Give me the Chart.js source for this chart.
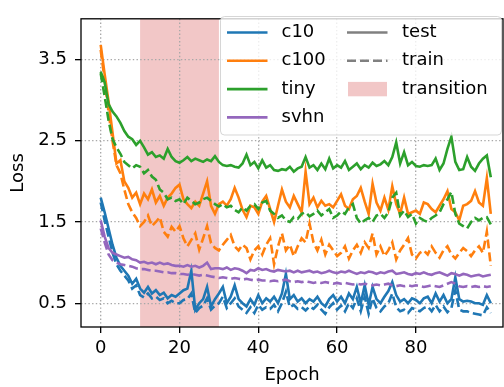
<!DOCTYPE html>
<html><head><meta charset="utf-8">
<script src="https://cdn.jsdelivr.net/npm/chart.js@4/dist/chart.umd.min.js"></script>
<style>html,body{margin:0;padding:0;background:#fff;}#wrap{width:504px;height:387px;}</style>
</head><body><div id="wrap"><canvas id="c" width="504" height="387"></canvas></div>
<script>
const seriesNames = ['c10','c100','tiny','svhn'];
const seriesColors = ['#1f77b4','#ff7f0e','#2ca02c','#9467bd'];
const xTicks = [0,20,40,60,80];
const yTicks = [0.5,1.5,2.5,3.5];
const transition = [10,30];

const c10Test = [1.80,1.62,1.42,1.22,1.06,0.96,0.90,0.84,0.74,0.80,0.68,0.63,0.70,0.62,0.66,
0.60,0.63,0.56,0.60,0.58,0.62,0.66,0.68,0.90,0.42,0.50,0.55,0.70,0.46,0.55,
0.62,0.70,0.50,0.58,0.72,0.55,0.50,0.46,0.55,0.48,0.60,0.50,0.56,0.52,0.58,0.50,0.62,0.86,0.55,0.60,0.52,0.56,0.50,0.55,0.52,0.58,0.50,0.46,0.55,0.60,
0.52,0.58,0.50,0.62,0.55,0.70,0.50,0.72,0.48,0.70,0.55,0.50,0.58,0.65,0.76,0.60,0.52,0.55,0.50,0.56,0.54,0.50,0.56,0.58,0.50,0.62,0.52,0.60,0.50,0.55,0.82,0.55,0.52,0.53,0.52,0.50,0.50,0.48,0.60,0.50];
const c10Train = [1.74,1.52,1.32,1.12,0.98,0.90,0.84,0.78,0.68,0.72,0.60,0.57,0.62,0.56,0.58,
0.54,0.56,0.50,0.53,0.50,0.50,0.54,0.55,0.62,0.38,0.44,0.47,0.56,0.42,0.47,
0.50,0.58,0.44,0.50,0.56,0.46,0.42,0.38,0.45,0.38,0.48,0.42,0.45,0.43,0.48,0.40,0.50,0.64,0.45,0.48,0.43,0.45,0.41,0.46,0.43,0.48,0.42,0.37,0.45,0.50,
0.42,0.47,0.40,0.50,0.44,0.56,0.40,0.58,0.37,0.56,0.44,0.40,0.46,0.50,0.62,0.45,0.40,0.42,0.38,0.44,0.42,0.40,0.44,0.46,0.40,0.48,0.40,0.46,0.39,0.44,0.66,0.42,0.40,0.40,0.38,0.37,0.36,0.35,0.45,0.38];
const c100Test = [3.68,3.32,2.98,2.60,2.22,2.26,2.00,1.92,1.80,1.86,
1.72,1.85,1.78,1.90,1.74,1.82,1.70,1.80,1.85,1.92,1.96,1.78,1.72,1.67,1.75,1.70,1.85,2.00,1.70,1.60,
1.72,1.75,1.70,1.78,1.92,1.80,1.65,1.56,1.70,1.68,1.60,1.75,1.82,1.66,1.50,1.70,1.90,1.75,1.68,1.82,1.72,1.62,2.12,1.72,1.80,1.68,1.76,1.70,1.72,1.68,
1.76,1.84,1.70,1.66,1.78,1.82,1.92,1.75,1.60,1.97,1.74,1.64,1.80,1.65,1.94,1.72,1.60,1.80,1.60,1.62,1.64,1.60,1.74,1.72,1.66,1.62,1.70,1.78,1.88,1.66,1.62,1.52,1.70,1.72,1.76,1.88,1.74,1.70,2.04,1.60];
const c100Train = [3.62,3.25,2.85,2.50,2.20,2.10,1.90,1.72,1.62,1.55,
1.45,1.50,1.58,1.45,1.50,1.56,1.38,1.32,1.44,1.38,1.45,1.30,1.20,1.28,1.36,1.16,1.30,1.45,1.24,1.18,
1.15,1.22,1.28,1.34,1.20,1.15,1.22,1.18,1.04,1.15,1.20,1.10,1.22,1.30,0.98,1.20,1.36,1.15,1.22,1.08,1.20,1.30,1.25,1.48,1.25,1.15,1.28,1.10,1.22,1.15,
1.08,1.12,1.20,1.05,1.15,1.22,1.12,1.25,1.18,1.36,1.10,1.20,1.08,1.15,1.25,1.04,1.15,1.22,1.30,1.10,1.05,1.12,1.15,1.10,1.20,1.12,1.06,1.15,1.20,1.10,1.05,1.12,1.18,1.14,1.08,1.15,1.20,1.12,1.38,0.96];
const tinyTest = [3.35,3.22,2.95,2.86,2.80,2.72,2.62,2.55,2.52,2.45,2.50,2.42,
2.33,2.36,2.30,2.32,2.28,2.40,2.30,2.25,2.23,2.26,2.30,2.25,2.28,2.26,2.24,2.27,2.25,2.31,
2.24,2.20,2.19,2.20,2.18,2.17,2.22,2.33,2.20,2.24,2.16,2.26,2.17,2.20,2.14,2.13,2.15,2.14,2.18,2.12,2.16,2.18,2.30,2.17,2.20,2.14,2.22,2.15,2.28,2.16,
2.20,2.17,2.25,2.14,2.18,2.22,2.15,2.20,2.17,2.23,2.19,2.21,2.25,2.20,2.30,2.48,2.22,2.36,2.20,2.24,
2.19,2.18,2.20,2.19,2.20,2.28,2.14,2.22,2.40,2.55,2.24,2.14,2.15,2.30,2.18,2.13,2.22,2.28,2.32,2.05];
const tinyTrain = [3.33,3.05,2.75,2.52,2.42,2.34,2.24,2.20,2.16,2.20,
2.18,2.10,2.14,2.06,2.02,1.90,1.86,1.78,1.80,1.76,1.78,1.72,1.80,1.76,1.72,1.74,1.78,1.80,1.76,1.72,
1.69,1.72,1.68,1.70,1.65,1.62,1.68,1.64,1.70,1.72,1.66,1.74,1.76,1.64,1.60,1.55,1.58,1.52,1.50,1.56,1.54,1.60,1.62,1.57,1.60,1.64,1.58,1.62,1.66,1.55,
1.58,1.63,1.60,1.68,1.72,1.55,1.48,1.52,1.55,1.50,1.58,1.60,1.55,1.62,1.80,1.86,1.58,1.64,1.56,1.60,1.48,1.55,1.52,1.50,1.55,1.58,1.62,1.72,1.78,1.87,1.60,1.48,1.45,1.42,1.50,1.55,1.52,1.55,1.56,1.47];
const svhnTest = [1.52,1.32,1.18,1.12,1.10,1.08,1.06,1.07,1.04,1.03,
1.00,1.01,0.99,1.00,0.98,1.00,0.98,0.99,0.97,0.96,0.96,0.95,0.97,0.95,0.96,0.94,0.96,1.00,0.92,0.93,
0.93,0.92,0.94,0.91,0.93,0.92,0.90,0.87,0.91,0.90,0.93,0.91,0.92,0.90,0.89,0.91,0.90,0.89,0.90,0.88,0.90,0.88,0.89,0.90,0.88,0.89,0.87,0.88,0.90,0.88,
0.87,0.89,0.88,0.90,0.88,0.86,0.88,0.87,0.89,0.88,0.86,0.88,0.87,0.89,0.90,0.86,0.87,0.88,0.86,0.85,0.87,0.86,0.88,0.86,0.85,0.87,0.88,0.86,0.84,0.87,0.86,0.84,0.86,0.85,0.83,0.84,0.85,0.83,0.84,0.85];
const svhnTrain = [1.42,1.25,1.10,1.03,1.00,0.98,0.97,0.96,0.95,0.93,
0.92,0.92,0.91,0.90,0.90,0.89,0.88,0.88,0.87,0.87,0.86,0.86,0.85,0.86,0.85,0.84,0.85,0.84,0.83,0.82,
0.81,0.82,0.81,0.80,0.81,0.80,0.79,0.80,0.79,0.78,0.79,0.78,0.78,0.77,0.78,0.77,0.78,0.79,0.77,0.76,0.77,0.76,0.77,0.76,0.75,0.76,0.75,0.76,0.75,0.74,
0.75,0.74,0.75,0.74,0.73,0.74,0.73,0.74,0.73,0.72,0.73,0.72,0.73,0.74,0.72,0.71,0.72,0.71,0.72,0.71,0.72,0.71,0.70,0.71,0.72,0.71,0.70,0.72,0.74,0.76,0.74,0.71,0.70,0.71,0.70,0.71,0.70,0.71,0.70,0.71];

const testSeries = [c10Test, c100Test, tinyTest, svhnTest];
const trainSeries = [c10Train, c100Train, tinyTrain, svhnTrain];

const FONT = 'DejaVu Sans';
const datasets = [];
let k = 0;
seriesNames.forEach((name, i) => {
  [[testSeries[i], [] , 'test'], [trainSeries[i], [9,4], 'train']].forEach(([vals, dash, kind]) => {
    datasets.push({
      label: name + ' ' + kind,
      data: vals.map((v, e) => ({x: e, y: v})),
      borderColor: seriesColors[i],
      borderWidth: 2.6,
      borderDash: dash,
      pointRadius: 0,
      fill: false,
      tension: 0,
      order: 100 - (k++)
    });
  });
});

const bgPlugin = {
  id: 'bg',
  beforeDraw(chart) {
    const {ctx, chartArea: a, scales: {x}} = chart;
    ctx.save();
    ctx.fillStyle = '#fff';
    ctx.fillRect(0, 0, chart.width, chart.height);
    const x0 = x.getPixelForValue(transition[0]);
    const x1 = x.getPixelForValue(transition[1]);
    ctx.fillStyle = '#f2c7c7';
    ctx.fillRect(x0, a.top, x1 - x0, a.bottom - a.top);
    ctx.restore();
  }
};

const frameLegendPlugin = {
  id: 'frameLegend',
  afterDraw(chart) {
    const {ctx, chartArea: a} = chart;
    ctx.save();
    ctx.strokeStyle = '#000';
    ctx.lineWidth = 1.3;
    ctx.strokeRect(a.left, a.top, a.right - a.left, a.bottom - a.top);
    const bx = 220.5, by = 16.5, bw = 281, bh = 118.5, r = 4;
    ctx.beginPath();
    ctx.moveTo(bx + r, by);
    ctx.lineTo(bx + bw - r, by); ctx.arcTo(bx + bw, by, bx + bw, by + r, r);
    ctx.lineTo(bx + bw, by + bh - r); ctx.arcTo(bx + bw, by + bh, bx + bw - r, by + bh, r);
    ctx.lineTo(bx + r, by + bh); ctx.arcTo(bx, by + bh, bx, by + bh - r, r);
    ctx.lineTo(bx, by + r); ctx.arcTo(bx, by, bx + r, by, r);
    ctx.closePath();
    ctx.fillStyle = 'rgba(255,255,255,0.8)';
    ctx.fill();
    ctx.strokeStyle = 'rgba(204,204,204,0.8)';
    ctx.lineWidth = 1;
    ctx.stroke();
    const rows = [32.5, 60.8, 89.1, 117.4];
    ctx.font = '18px "' + FONT + '"';
    ctx.textBaseline = 'middle';
    ctx.fillStyle = '#000';
    seriesNames.forEach((n, i) => {
      ctx.strokeStyle = seriesColors[i];
      ctx.lineWidth = 2.6;
      ctx.setLineDash([]);
      ctx.beginPath(); ctx.moveTo(227, rows[i]); ctx.lineTo(267.5, rows[i]); ctx.stroke();
      ctx.fillText(n, 281.5, rows[i]);
    });
    ctx.strokeStyle = 'gray';
    ctx.beginPath(); ctx.moveTo(347, rows[0]); ctx.lineTo(387.5, rows[0]); ctx.stroke();
    ctx.setLineDash([9, 4]);
    ctx.beginPath(); ctx.moveTo(347, rows[1]); ctx.lineTo(387.5, rows[1]); ctx.stroke();
    ctx.setLineDash([]);
    ctx.fillStyle = '#f2c7c7';
    ctx.fillRect(348, rows[2] - 7.2, 39, 14.4);
    ctx.fillStyle = '#000';
    ctx.fillText('test', 402, rows[0]);
    ctx.fillText('train', 402, rows[1]);
    ctx.fillText('transition', 402, rows[2]);
    ctx.restore();
  }
};

new Chart(document.getElementById('c'), {
  type: 'line',
  data: { datasets },
  options: {
    responsive: false,
    animation: false,
    devicePixelRatio: 1,
    layout: { padding: { top: 7, right: 1, left: 0, bottom: 0 } },
    plugins: { legend: { display: false }, tooltip: { enabled: false } },
    scales: {
      x: {
        type: 'linear', min: -5, max: 102.1,
        afterBuildTicks: s => { s.ticks = xTicks.map(v => ({value: v})); },
        afterFit: s => { s.height = 60; },
        grid: { color: '#a8a8a8', lineWidth: 1.33, tickLength: 6, tickColor: '#000', tickWidth: 1.3, tickBorderDash: [] },
        border: { display: false, dash: [1.4, 2.3] },
        ticks: { color: '#000', font: { family: FONT, size: 18 }, padding: 5, maxRotation: 0, callback: v => String(v) },
        title: { display: true, text: 'Epoch', color: '#000', font: { family: FONT, size: 18 }, padding: { top: 0, bottom: 1 } }
      },
      y: {
        type: 'linear', min: 0.207, max: 4.002,
        afterBuildTicks: s => { s.ticks = yTicks.map(v => ({value: v})); },
        afterFit: s => { s.width = 81; },
        grid: { color: '#a8a8a8', lineWidth: 1.33, tickLength: 6, tickColor: '#000', tickWidth: 1.3, tickBorderDash: [] },
        border: { display: false, dash: [1.4, 2.3] },
        ticks: { color: '#000', font: { family: FONT, size: 18 }, padding: 8, callback: v => v.toFixed(1) },
        title: { display: true, text: 'Loss', color: '#000', font: { family: FONT, size: 18 }, padding: { top: 8, bottom: 0 } }
      }
    }
  },
  plugins: [bgPlugin, frameLegendPlugin]
});
</script></body></html>
